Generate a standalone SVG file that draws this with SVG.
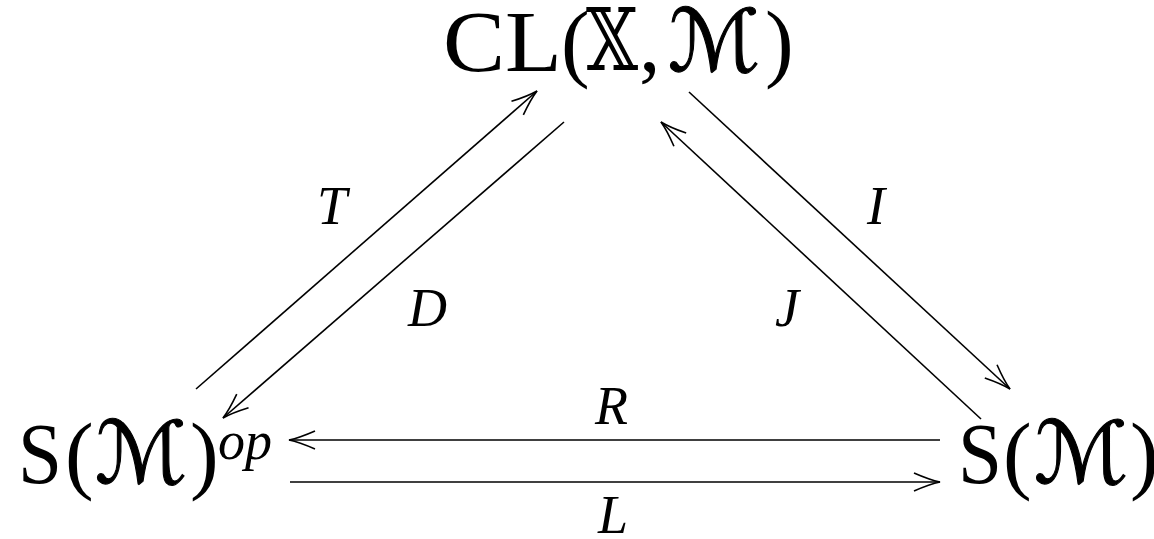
<svg xmlns="http://www.w3.org/2000/svg" width="1154" height="539" viewBox="0 0 1154 539">
<style>
.n{font-family:"Liberation Serif","DejaVu Serif",serif;font-size:86px;fill:#000}
.m{font-family:"DejaVu Serif","DejaVu Sans",serif;font-size:86px;fill:#000}
.cal{font-style:italic;stroke:#000;stroke-width:1.1}
.lab{font-family:"Liberation Serif","DejaVu Serif",serif;font-style:italic;font-size:54px;fill:#000}
.c{stroke:#000;stroke-width:1.6;fill:none}
</style>
<defs>
<marker id="ah" markerUnits="userSpaceOnUse" orient="auto" refX="0" refY="0" markerWidth="40" markerHeight="40" viewBox="-30 -15 40 30" style="overflow:visible">
<path d="M-26,-9 Q-10,-2 0,0 Q-10,2 -26,9" fill="none" stroke="#000" stroke-width="1.6"/>
</marker>
</defs>
<rect width="1154" height="539" fill="#fff"/>
<g id="connectors">
<line class="c" x1="196" y1="389" x2="537" y2="91" marker-end="url(#ah)"/>
<line class="c" x1="564" y1="122" x2="223" y2="418" marker-end="url(#ah)"/>
<line class="c" x1="689" y1="92" x2="1010" y2="389" marker-end="url(#ah)"/>
<line class="c" x1="981" y1="419" x2="661" y2="122" marker-end="url(#ah)"/>
<line class="c" x1="940" y1="440" x2="289" y2="440" marker-end="url(#ah)"/>
<line class="c" x1="290" y1="482" x2="940" y2="482" marker-end="url(#ah)"/>
<text class="lab" x="317" y="224">T</text>
<text class="lab" x="408" y="326">D</text>
<text class="lab" x="867" y="224">I</text>
<text class="lab" x="775" y="326">J</text>
<text class="lab" x="595" y="424">R</text>
<text class="lab" x="598" y="533">L</text>
</g>
<g id="node-cl">
<text class="n" x="443" y="71" textLength="119" lengthAdjust="spacingAndGlyphs">CL</text>
<text class="n" x="561" y="71">(</text>
<text class="m" x="586" y="70" textLength="52" lengthAdjust="spacingAndGlyphs">𝕏</text>
<text class="n" x="639" y="71">,</text>
<text class="m cal" x="668" y="71" textLength="92" lengthAdjust="spacingAndGlyphs">ℳ</text>
<text class="n" x="765" y="71">)</text>
</g>
<g id="node-sop">
<text class="n" x="18" y="483" font-size="90" textLength="44" lengthAdjust="spacingAndGlyphs">S</text>
<text class="n" x="65" y="483">(</text>
<text class="m cal" x="95" y="483" textLength="92" lengthAdjust="spacingAndGlyphs">ℳ</text>
<text class="n" x="190" y="483">)</text>
<text class="lab" x="218" y="459" font-size="62">op</text>
</g>
<g id="node-s">
<text class="n" x="958" y="483" font-size="90" textLength="44" lengthAdjust="spacingAndGlyphs">S</text>
<text class="n" x="1003" y="483">(</text>
<text class="m cal" x="1034" y="483" textLength="94" lengthAdjust="spacingAndGlyphs">ℳ</text>
<text class="n" x="1130" y="483">)</text>
</g>
</svg>
